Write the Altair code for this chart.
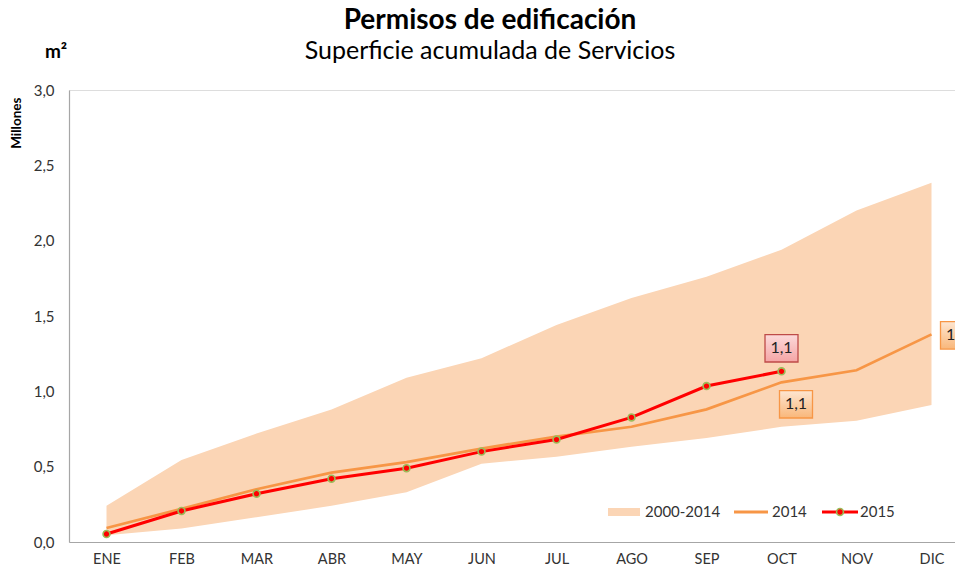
import altair as alt
import pandas as pd

months = ["ENE", "FEB", "MAR", "ABR", "MAY", "JUN", "JUL", "AGO", "SEP", "OCT", "NOV", "DIC"]
band_low = [0.045, 0.09, 0.165, 0.24, 0.33, 0.52, 0.565, 0.632, 0.69, 0.765, 0.805, 0.91]
band_high = [0.24, 0.545, 0.72, 0.88, 1.09, 1.22, 1.44, 1.62, 1.76, 1.94, 2.20, 2.385]
s2014 = [0.093, 0.22, 0.35, 0.46, 0.53, 0.62, 0.70, 0.765, 0.88, 1.06, 1.14, 1.378]
s2015 = [0.053, 0.206, 0.32, 0.42, 0.49, 0.60, 0.68, 0.827, 1.035, 1.133]
series_names = ["2000-2014", "2014", "2015"]

C_BAND = "#fbd5b5"
C_2014 = "#f79646"
C_2015 = "#ff0000"
FONT = "Lato"

band_df = pd.DataFrame({"mes": months, "low": band_low, "high": band_high})
l2014_df = pd.DataFrame({"mes": months, "v": s2014})
l2015_df = pd.DataFrame({"mes": months[:len(s2015)], "v": s2015})

x_scale = alt.Scale(type="point", domain=months, padding=0.5)
y_scale = alt.Scale(domain=[0, 3])

x_enc = alt.X("mes:N", scale=x_scale, sort=months,
              axis=alt.Axis(title=None, labelAngle=0, ticks=False, grid=False,
                            domainColor="#a6a6a6", domainWidth=1.2, labelPadding=10,
                            labelFont=FONT, labelFontSize=14.5, labelColor="#333333"))
y_axis = alt.Axis(values=[0, 0.5, 1.0, 1.5, 2.0, 2.5, 3.0], grid=False, ticks=False,
                  domainColor="#a6a6a6", domainWidth=1.2, labelPadding=15,
                  labelExpr="replace(format(datum.value, '.1f'), '.', ',')",
                  labelFont=FONT, labelFontSize=15, labelColor="#333333",
                  title="Millones", titleFont=FONT, titleFontSize=13.5, titleFontWeight="bold",
                  titleAngle=-90, titleX=-53, titleY=7, titleAlign="right", titleBaseline="middle",
                  titleColor="#000000")

area = alt.Chart(band_df).mark_area(opacity=1, color=C_BAND).encode(
    x=x_enc,
    y=alt.Y("low:Q", scale=y_scale, axis=y_axis),
    y2="high:Q",
)

line14 = alt.Chart(l2014_df).mark_line(strokeWidth=2.75, color=C_2014).encode(
    x=x_enc, y=alt.Y("v:Q", scale=y_scale),
)

line15 = alt.Chart(l2015_df).mark_line(strokeWidth=3, color=C_2015).encode(
    x=x_enc, y=alt.Y("v:Q", scale=y_scale),
)

pts15 = alt.Chart(l2015_df).mark_point(filled=True, fill=C_2015, stroke="#9bbb59",
                                       strokeWidth=1.6, size=48, opacity=1).encode(
    x=x_enc, y=alt.Y("v:Q", scale=y_scale),
)

box_shape = "M-1,-0.83H1V0.83H-1Z"
pink_grad = alt.Gradient(gradient="linear", x1=0, x2=0, y1=0, y2=1,
                         stops=[alt.GradientStop(color="#fcdada", offset=0),
                                alt.GradientStop(color="#f5a5a5", offset=1)])
orange_grad = alt.Gradient(gradient="linear", x1=0, x2=0, y1=0, y2=1,
                           stops=[alt.GradientStop(color="#fde6d2", offset=0),
                                  alt.GradientStop(color="#f9b77a", offset=1)])


def annotation(df, idx, fill, stroke, dx, dy):
    sub = df.iloc[[idx]].copy()
    base = alt.Chart(sub).transform_calculate(
        label="replace(format(datum.v, '.1f'), '.', ',')"
    )
    box = base.mark_point(shape=box_shape, size=1089, filled=True, fill=fill, stroke=stroke,
                          strokeWidth=1.3, opacity=1, xOffset=dx, yOffset=dy).encode(
        x=x_enc, y=alt.Y("v:Q", scale=y_scale))
    txt = base.mark_text(font=FONT, fontSize=16, color="#222222", xOffset=dx, yOffset=dy,
                         align="center", baseline="middle").encode(
        x=x_enc, y=alt.Y("v:Q", scale=y_scale), text="label:N")
    return [box, txt]


ann = []
ann += annotation(l2015_df, 9, pink_grad, "#be4b48", 0, -23)
ann += annotation(l2014_df, 9, orange_grad, "#f79646", 14.5, 22)
ann += annotation(l2014_df, 11, orange_grad, "#f79646", 25.5, 1)

# manual legend (inside the plot, bottom right)
LY = 422
leg_df = pd.DataFrame({"t": series_names})
leg_band = alt.Chart(leg_df.iloc[[0]]).mark_rect(color=C_BAND).encode(
    x=alt.value(539), x2=alt.value(571), y=alt.value(LY - 4), y2=alt.value(LY + 4))
leg_l14 = alt.Chart(leg_df.iloc[[1]]).mark_rule(color=C_2014, strokeWidth=3).encode(
    x=alt.value(665), x2=alt.value(699), y=alt.value(LY))
leg_l15 = alt.Chart(leg_df.iloc[[2]]).mark_rule(color=C_2015, strokeWidth=3).encode(
    x=alt.value(753), x2=alt.value(789), y=alt.value(LY))
leg_p15 = alt.Chart(leg_df.iloc[[2]]).mark_point(filled=True, fill=C_2015, stroke="#9bbb59",
                                                 strokeWidth=1.6, size=48, opacity=1).encode(
    x=alt.value(771), y=alt.value(LY))
leg_txt = []
for i, xpos in enumerate([576, 703, 791]):
    leg_txt.append(alt.Chart(leg_df.iloc[[i]]).mark_text(
        font=FONT, fontSize=15, color="#333333", align="left", baseline="middle").encode(
        x=alt.value(xpos), y=alt.value(LY), text="t:N"))

unit_df = pd.DataFrame({"t": ["m²"]})
unit = alt.Chart(unit_df).mark_text(font=FONT, fontSize=19, fontWeight="bold", color="#000000",
                                    align="center", baseline="alphabetic").encode(
    x=alt.value(-13), y=alt.value(-32), text="t:N")

chart = alt.layer(area, line14, line15, pts15, *ann,
                  leg_band, leg_l14, leg_l15, leg_p15, *leg_txt, unit).properties(
    width=900, height=452,
    autosize=alt.AutoSizeParams(type="none"),
    padding={"left": 61, "top": 82, "right": -14, "bottom": 25},
    title=alt.TitleParams(
        text="Permisos de edificación",
        subtitle="Superficie acumulada de Servicios",
        anchor="middle", frame="group", dx=-29, dy=37, offset=16,
        font=FONT, fontSize=28, fontWeight="bold", color="#000000",
        subtitleFont=FONT, subtitleFontSize=25, subtitleColor="#000000", subtitlePadding=4,
    ),
).configure_view(stroke=None).configure(background="white")

chart.save("out.html", embed_options={"renderer": "svg", "actions": False})
